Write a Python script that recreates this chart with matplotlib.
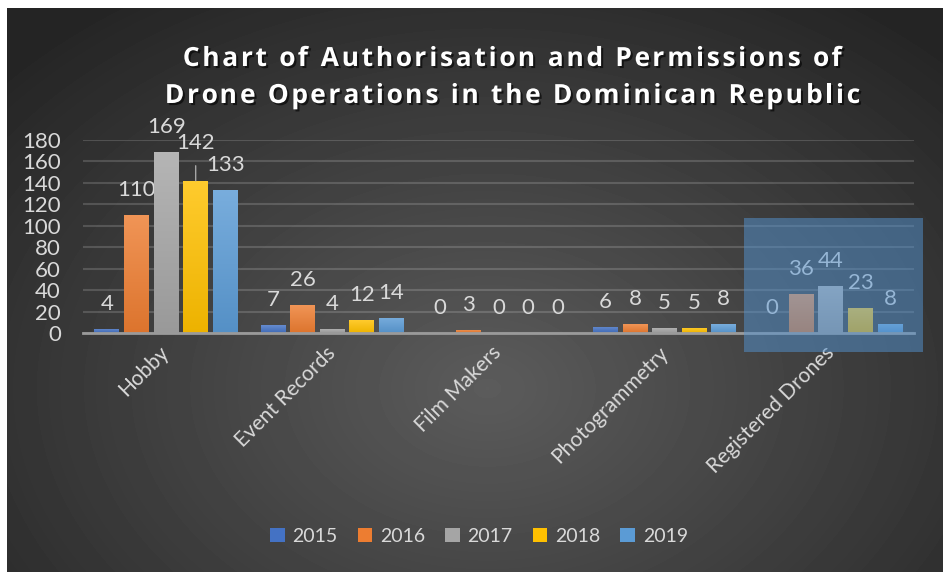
import numpy as np
import matplotlib
matplotlib.use('Agg')
import matplotlib.pyplot as plt
import matplotlib.patheffects as pe
from matplotlib.patches import Rectangle
from matplotlib.colors import to_rgb
from matplotlib.font_manager import FontProperties

# data
CATEGORIES = ["Hobby", "Event Records", "Film Makers", "Photogrammetry", "Registered Drones"]
YEARS = ["2015", "2016", "2017", "2018", "2019"]
V2015 = [4, 7, 0, 6, 0]
V2016 = [110, 26, 3, 8, 36]
V2017 = [169, 4, 0, 5, 44]
V2018 = [142, 12, 0, 5, 23]
V2019 = [133, 14, 0, 8, 8]
SERIES = [V2015, V2016, V2017, V2018, V2019]
COLORS = ["#4472C4", "#ED7D31", "#A5A5A5", "#FFC000", "#5B9BD5"]
TITLE_LINES = ["Chart of Authorisation and Permissions of",
               "Drone Operations in the Dominican Republic"]

W, H = 943, 572
FONT = 'Lato'
TXT = '#d9d9d9'
PITCH = 0.178
BAR_W = 0.15


def mix(c, other, t):
    c = np.array(to_rgb(c))
    return c * (1 - t) + np.array(other) * t


#   dark radial background
def draw_background(fig):
    bg = fig.add_axes([7 / W, 0, 1 - 7 / W, 1 - 8 / H], zorder=-10)
    h, w = H - 8, W - 7
    yy, xx = np.mgrid[0:h, 0:w]
    r = np.sqrt(((xx - 480) / 650) ** 2 + ((yy - 380) / 470) ** 2)
    r = np.clip(r, 0, 1)
    c = 0.36 - (0.36 - 0.145) * r
    bg.imshow(c, cmap='gray', vmin=0, vmax=1, aspect='auto', interpolation='bilinear')
    bg.axis('off')


#   title with letter spacing (drawn char by char)
def draw_title(fig):
    prop = FontProperties(family=['Open Sans', 'DejaVu Sans'], weight='bold', size=19)
    renderer = fig.canvas.get_renderer()
    ref_w = renderer.get_text_width_height_descent('x', prop, ismath=False)[0]
    spacing = 2.7
    shadow = [pe.withSimplePatchShadow(offset=(1.5, -1.5), shadow_rgbFace='black', alpha=0.6)]
    for line, base in zip(TITLE_LINES, [66, 103]):
        pos = []
        for i in range(len(line) + 1):
            wpx = renderer.get_text_width_height_descent(line[:i] + 'x', prop, ismath=False)[0] - ref_w
            pos.append(wpx + i * spacing)
        total = pos[-1] - spacing
        left = 512.5 - total / 2
        for i, ch in enumerate(line):
            if ch == ' ':
                continue
            fig.text((left + pos[i]) / W, 1 - base / H, ch, fontproperties=prop, color='white',
                     ha='left', va='baseline', path_effects=shadow)


#   bars with a vertical gradient
def draw_bars(ax):
    x = np.arange(len(CATEGORIES))
    handles = []
    for j, (vals, col) in enumerate(zip(SERIES, COLORS)):
        bars = ax.bar(x + (j - 2) * PITCH, vals, BAR_W, color=col, zorder=2, label=YEARS[j])
        handles.append(bars)
        top = mix(col, (1, 1, 1), 0.18)
        bot = mix(col, (0, 0, 0), 0.07)
        grad = np.linspace(0, 1, 64)[:, None, None] * (bot - top) + top
        for b in bars:
            if b.get_height() <= 0:
                continue
            im = ax.imshow(grad, extent=[b.get_x(), b.get_x() + b.get_width(), 0, b.get_height()],
                           aspect='auto', zorder=3, interpolation='bilinear')
            im.set_clip_path(b)
        for k, b in enumerate(bars):
            cx = b.get_x() + b.get_width() / 2
            if j == 3 and k == 0:
                # label lifted with a leader line
                ax.annotate(str(vals[k]), (cx, b.get_height()), xytext=(0, 27),
                            textcoords='offset points', ha='center', va='center',
                            color=TXT, fontsize=16, annotation_clip=False,
                            arrowprops=dict(arrowstyle='-', color='#a6a6a6', lw=1,
                                            shrinkA=7, shrinkB=0))
            else:
                ax.annotate(str(vals[k]), (cx, b.get_height()), xytext=(0, 18),
                            textcoords='offset points', ha='center', va='center',
                            color=TXT, fontsize=16, annotation_clip=False)
    return handles


def config_axes(ax):
    ax.set_facecolor('none')
    ax.set_xlim(-0.5, len(CATEGORIES) - 0.5)
    ax.set_ylim(0, 180)
    ax.set_yticks(range(0, 181, 20))
    ax.yaxis.grid(True, color='white', alpha=0.16, lw=1.5)
    ax.set_axisbelow(True)
    for s in ['top', 'right', 'left']:
        ax.spines[s].set_visible(False)
    ax.spines['bottom'].set_color('#9a9a9a')
    ax.spines['bottom'].set_linewidth(2)
    ax.spines['bottom'].set_zorder(4)
    ax.tick_params(axis='y', length=0, labelsize=16, labelcolor=TXT, pad=16)
    ax.set_xticks(np.arange(len(CATEGORIES)))
    ax.set_xticklabels(CATEGORIES, rotation=45, ha='right', va='center',
                       rotation_mode='anchor', fontsize=15, color=TXT)
    ax.tick_params(axis='x', length=0, pad=12)


def create_graph():
    plt.rcParams['font.family'] = [FONT, 'DejaVu Sans']
    fig = plt.figure(figsize=(W / 100, H / 100), dpi=100, facecolor='white')
    draw_background(fig)
    ax = fig.add_axes([83 / W, 1 - 333 / H, (914 - 83) / W, 193 / H])
    handles = draw_bars(ax)
    config_axes(ax)
    draw_title(fig)

    fig.legend(handles=handles, loc='center', bbox_to_anchor=(479 / W, 1 - 536 / H), ncol=5,
               frameon=False, fontsize=14, labelcolor=TXT, handlelength=0.75, handleheight=0.75,
               handletextpad=0.4, columnspacing=1.03)

    # highlight box over Registered Drones
    fig.add_artist(Rectangle((744 / W, 1 - 352 / H), 179 / W, 134 / H, transform=fig.transFigure,
                             facecolor=(84 / 255, 148 / 255, 210 / 255), alpha=0.5, zorder=10))

    fig.savefig('out.png', dpi=100, facecolor='white')
    plt.close(fig)


if __name__ == "__main__":
    create_graph()
